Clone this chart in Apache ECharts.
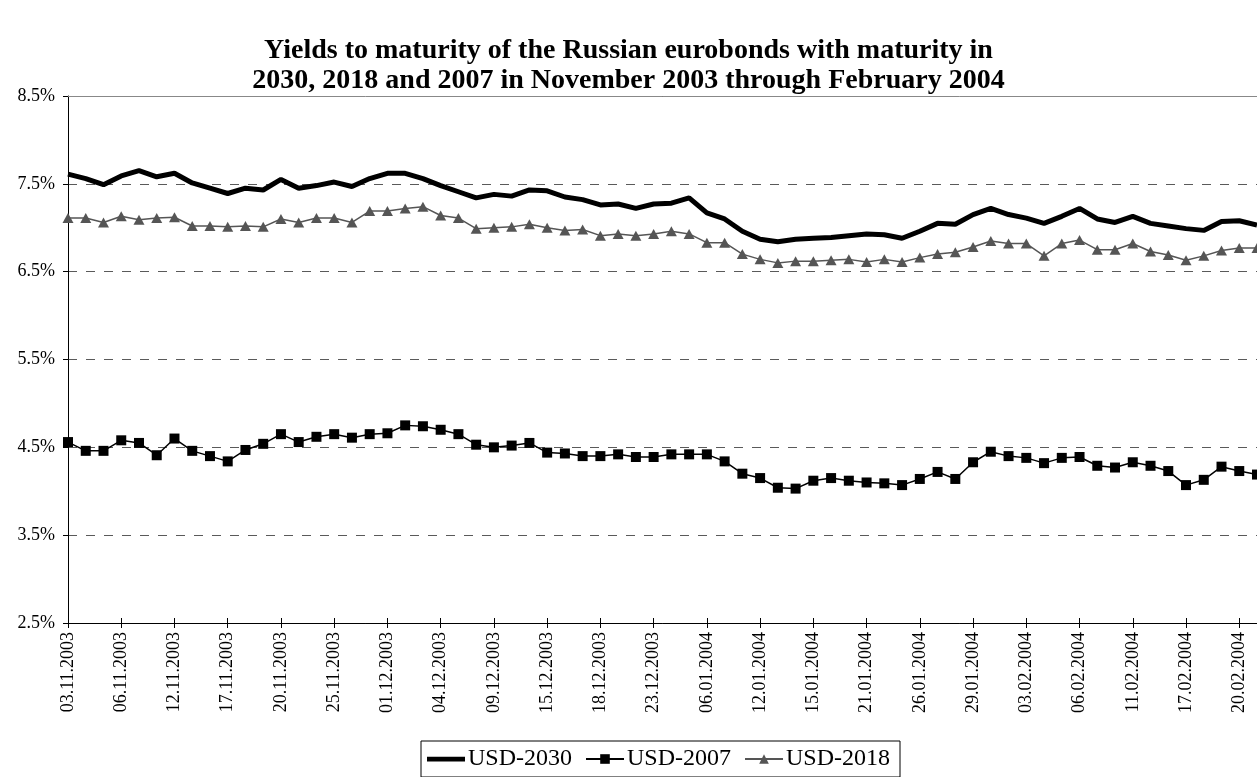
<!DOCTYPE html>
<html>
<head>
<meta charset="utf-8">
<title>Russian eurobond yields</title>
<script src="https://cdn.jsdelivr.net/npm/echarts@6/dist/echarts.min.js"></script>
<style>
  html, body { margin: 0; padding: 0; background: #fff; }
  #chart { width: 1257px; height: 777px; }
</style>
</head>
<body>
<div id="chart"></div>
<script>
// Trading dates, November 2003 - February 2004
const dates = [
  '03.11.2003','04.11.2003','05.11.2003','06.11.2003','10.11.2003','11.11.2003',
  '12.11.2003','13.11.2003','14.11.2003','17.11.2003','18.11.2003','19.11.2003',
  '20.11.2003','21.11.2003','24.11.2003','25.11.2003','26.11.2003','28.11.2003',
  '01.12.2003','02.12.2003','03.12.2003','04.12.2003','05.12.2003','08.12.2003',
  '09.12.2003','10.12.2003','11.12.2003','15.12.2003','16.12.2003','17.12.2003',
  '18.12.2003','19.12.2003','22.12.2003','23.12.2003','24.12.2003','30.12.2003',
  '06.01.2004','08.01.2004','09.01.2004','12.01.2004','13.01.2004','14.01.2004',
  '15.01.2004','16.01.2004','20.01.2004','21.01.2004','22.01.2004','23.01.2004',
  '26.01.2004','27.01.2004','28.01.2004','29.01.2004','30.01.2004','02.02.2004',
  '03.02.2004','04.02.2004','05.02.2004','06.02.2004','09.02.2004','10.02.2004',
  '11.02.2004','12.02.2004','13.02.2004','17.02.2004','18.02.2004','19.02.2004',
  '20.02.2004','24.02.2004'
];

// Yield to maturity, %
const usd2030 = [
  7.61,7.56,7.49,7.59,7.65,7.58,7.62,7.51,7.45,7.39,7.45,7.43,
  7.55,7.45,7.48,7.52,7.47,7.56,7.62,7.62,7.56,7.48,7.41,7.34,
  7.38,7.36,7.43,7.42,7.35,7.32,7.26,7.27,7.22,7.27,7.28,7.34,
  7.17,7.10,6.96,6.87,6.84,6.87,6.88,6.89,6.91,6.93,6.92,6.88,
  6.96,7.05,7.04,7.15,7.22,7.15,7.11,7.05,7.13,7.22,7.10,7.06,
  7.13,7.05,7.02,6.99,6.97,7.07,7.08,7.03
];

const usd2007 = [
  4.56,4.46,4.46,4.58,4.55,4.41,4.60,4.46,4.40,4.34,4.47,4.54,
  4.65,4.56,4.62,4.65,4.61,4.65,4.66,4.75,4.74,4.70,4.65,4.53,
  4.50,4.52,4.55,4.44,4.43,4.40,4.40,4.42,4.39,4.39,4.42,4.42,
  4.42,4.34,4.20,4.15,4.04,4.03,4.12,4.15,4.12,4.10,4.09,4.07,
  4.14,4.22,4.14,4.33,4.45,4.40,4.38,4.32,4.38,4.39,4.29,4.27,
  4.33,4.29,4.23,4.07,4.13,4.28,4.23,4.19
];

const usd2018 = [
  7.11,7.11,7.06,7.13,7.09,7.11,7.12,7.02,7.02,7.01,7.02,7.01,
  7.10,7.06,7.11,7.11,7.06,7.19,7.19,7.22,7.24,7.14,7.11,6.99,
  7.00,7.01,7.04,7.00,6.97,6.98,6.91,6.93,6.91,6.93,6.96,6.93,
  6.83,6.83,6.70,6.64,6.60,6.62,6.62,6.63,6.64,6.61,6.64,6.61,
  6.66,6.70,6.72,6.78,6.85,6.82,6.82,6.68,6.82,6.86,6.75,6.75,
  6.82,6.73,6.69,6.63,6.68,6.74,6.77,6.77
];

// Value axis ticks
const yMin = 2.5, yMax = 8.5, yStep = 1;

const serif = 'Liberation Serif, Times New Roman, serif';

const chart = echarts.init(document.getElementById('chart'), null, { renderer: 'canvas' });

chart.setOption({
  animation: false,
  backgroundColor: '#ffffff',
  title: {
    text: 'Yields to maturity of the Russian eurobonds with maturity in\n2030, 2018 and 2007 in November 2003 through February 2004',
    left: 'center',
    top: 31,
    textStyle: {
      fontFamily: serif,
      fontWeight: 'bold',
      fontSize: 28,
      lineHeight: 30,
      color: '#000'
    }
  },
  legend: {
    left: 421,
    top: 741,
    orient: 'horizontal',
    padding: [6, 10, 6, 6],
    itemGap: 13,
    itemWidth: 38,
    itemHeight: 12,
    borderColor: '#000',
    borderWidth: 1,
    textStyle: { fontFamily: serif, fontSize: 24, color: '#000', padding: [0, 0, 0, -2] },
    data: [
      // plain heavy bar for the series drawn without markers
      { name: 'USD-2030', icon: 'path://M0,0H40V5H0Z' },
      { name: 'USD-2007' },
      { name: 'USD-2018' }
    ]
  },
  grid: { left: 68, right: -5, top: 96, bottom: 154, containLabel: false },
  xAxis: [
    {
      type: 'category',
      data: dates,
      boundaryGap: false,
      axisLine: { show: true, lineStyle: { color: '#000', width: 1 } },
      axisTick: { show: true, interval: 2, length: 5, lineStyle: { color: '#000' } },
      axisLabel: {
        interval: 2,
        rotate: 90,
        margin: 9,
        fontFamily: serif,
        fontSize: 18,
        color: '#000'
      },
      splitLine: { show: false }
    },
    {
      // inner half of the crossing tick marks
      type: 'category',
      data: dates,
      boundaryGap: false,
      position: 'bottom',
      axisLine: { show: false },
      axisTick: { show: true, inside: true, interval: 2, length: 5, lineStyle: { color: '#000' } },
      axisLabel: { show: false },
      splitLine: { show: false }
    }
  ],
  yAxis: {
    type: 'value',
    min: yMin,
    max: yMax,
    interval: yStep,
    axisLine: { show: true, lineStyle: { color: '#000', width: 1 } },
    axisTick: { show: true, length: 5, lineStyle: { color: '#000' } },
    axisLabel: {
      margin: 13,
      fontFamily: serif,
      fontSize: 18,
      color: '#000',
      formatter: v => v.toFixed(1) + '%'
    },
    splitLine: { show: true, lineStyle: { color: '#5a5a5a', width: 1, type: [9, 9] } }
  },
  series: [
    {
      name: 'USD-2030',
      type: 'line',
      data: usd2030,
      symbol: 'none',
      lineStyle: { color: '#000', width: 5 },
      itemStyle: { color: '#000' },
      z: 4,
      markLine: {
        silent: true,
        symbol: 'none',
        label: { show: false },
        lineStyle: { color: '#888', type: 'solid', width: 1 },
        data: [{ yAxis: yMax }]
      }
    },
    {
      name: 'USD-2007',
      type: 'line',
      data: usd2007,
      symbol: 'rect',
      symbolSize: 10,
      showAllSymbol: true,
      lineStyle: { color: '#000', width: 1.5 },
      itemStyle: { color: '#000' },
      z: 3
    },
    {
      name: 'USD-2018',
      type: 'line',
      data: usd2018,
      symbol: 'triangle',
      symbolSize: [11, 10],
      showAllSymbol: true,
      lineStyle: { color: '#555', width: 1.5 },
      itemStyle: { color: '#555' },
      z: 3
    }
  ]
});
</script>
</body>
</html>
